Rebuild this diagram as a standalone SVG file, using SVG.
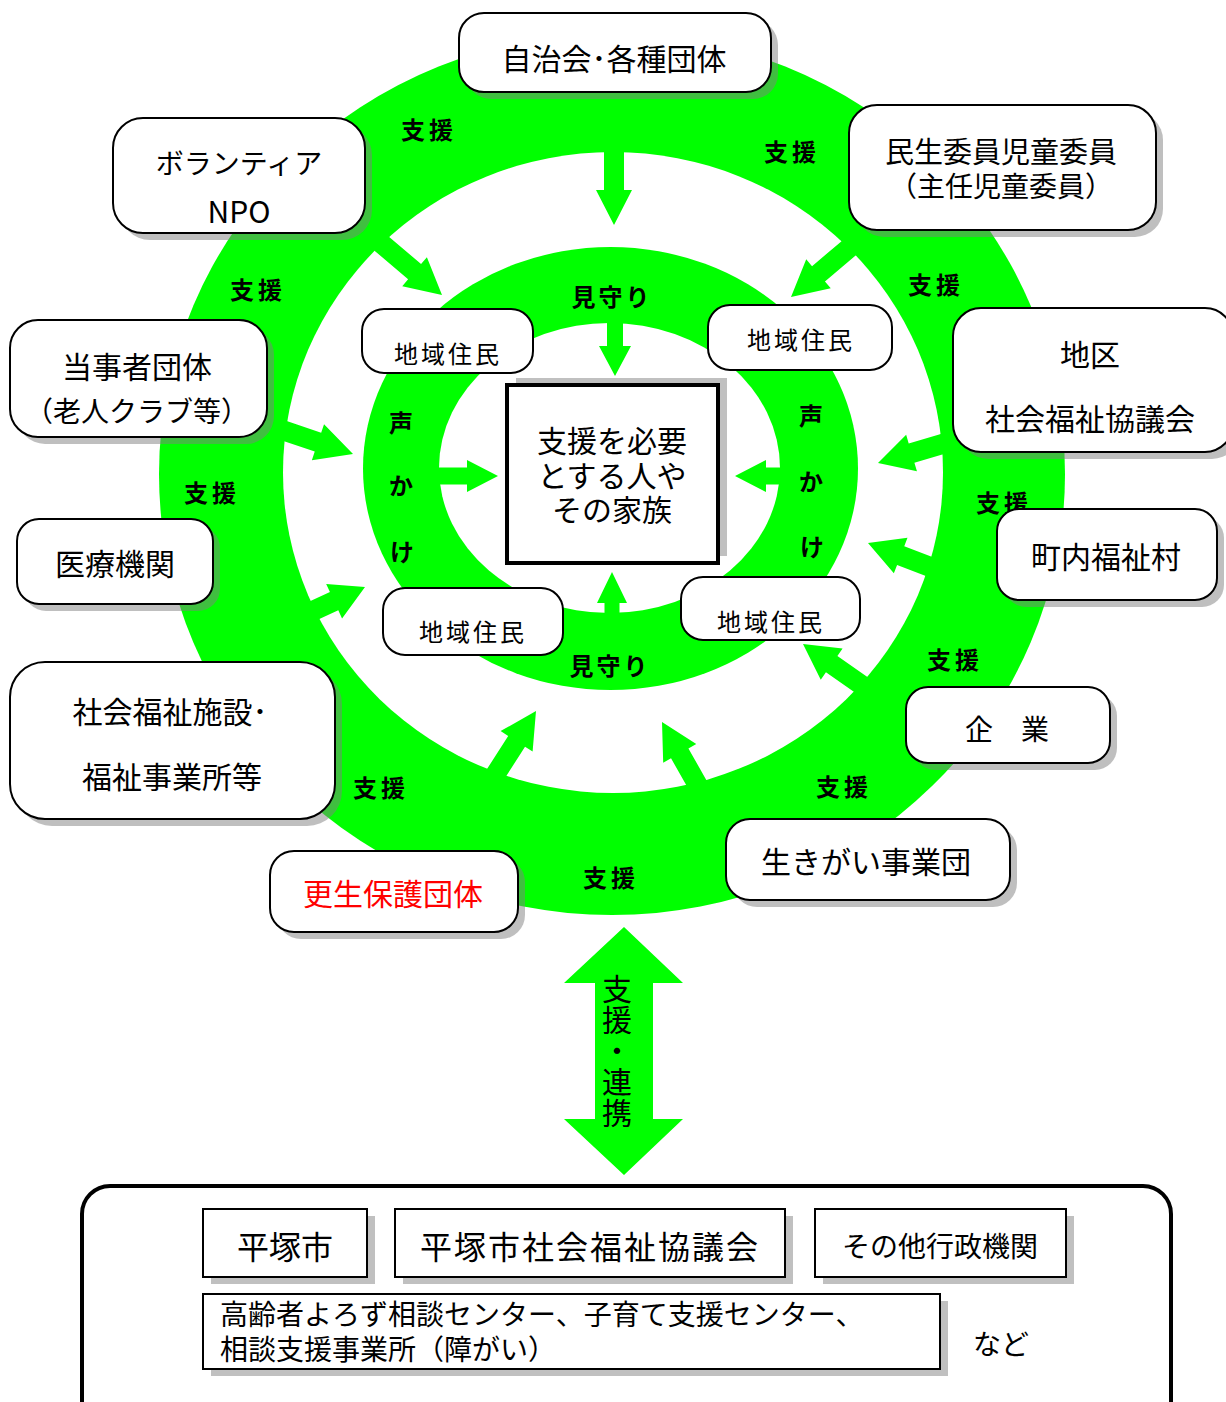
<svg xmlns="http://www.w3.org/2000/svg" width="1226" height="1402" viewBox="0 0 1226 1402">
<style>
text{font-family:"Noto Sans CJK JP","Noto Sans CJK SC",sans-serif;fill:#000;text-anchor:middle;dominant-baseline:central}
.g{fill:#00ff00}
.w{fill:#fff}
.sh{fill:#808080;fill-opacity:0.5}
.box{fill:#fff;stroke:#000;stroke-width:2}
.lbl{font-size:24px;font-weight:bold;letter-spacing:4px}
.t28{font-size:28px}
.t30{font-size:30px}
.t24{font-size:24px;letter-spacing:3px}
.sq{fill:#fff;stroke:#000;stroke-width:2}
.sqsh{fill:#c0c0c0}
.vt{font-size:30px;writing-mode:vertical-rl;letter-spacing:1px}
</style>
<rect width="1226" height="1402" fill="#fff"/>
<g id="rings">
<ellipse cx="612" cy="474" rx="453" ry="441" class="g"/>
<ellipse cx="613" cy="472.5" rx="330" ry="320.5" class="w"/>
<ellipse cx="610.5" cy="468.5" rx="247.5" ry="221.5" class="g"/>
<ellipse cx="609.5" cy="468" rx="170.5" ry="145" class="w"/>
</g>
<g id="connectors" class="g">
<polygon transform="translate(614,225) rotate(90)" points="0,0 -35,-18 -35,-10 -77,-10 -77,10 -35,10 -35,18"/>
<polygon transform="translate(442,295) rotate(40.4)" points="0,0 -36,-19 -36,-10 -86,-10 -86,10 -36,10 -36,19"/>
<polygon transform="translate(791,297) rotate(139.8)" points="0,0 -36,-19 -36,-10 -84,-10 -84,10 -36,10 -36,19"/>
<polygon transform="translate(353,454) rotate(18.7)" points="0,0 -37,-19 -37,-10 -78,-10 -78,10 -37,10 -37,19"/>
<polygon transform="translate(365,587) rotate(-24.7)" points="0,0 -34,-19 -34,-10 -62,-10 -62,10 -34,10 -34,19"/>
<polygon transform="translate(878,463) rotate(163.5)" points="0,0 -35,-19 -35,-10 -72,-10 -72,10 -35,10 -35,19"/>
<polygon transform="translate(868,543) rotate(201)" points="0,0 -35,-19 -35,-10 -70,-10 -70,10 -35,10 -35,19"/>
<polygon transform="translate(803,644) rotate(215)" points="0,0 -35,-19 -35,-10 -76,-10 -76,10 -35,10 -35,19"/>
<polygon transform="translate(662,722) rotate(240.5)" points="0,0 -36,-19 -36,-10 -76,-10 -76,10 -36,10 -36,19"/>
<polygon transform="translate(536,711) rotate(-57.4)" points="0,0 -36,-19 -36,-10 -78,-10 -78,10 -36,10 -36,19"/>
<polygon transform="translate(615,376) rotate(90)" points="0,0 -30,-16 -30,-8 -60,-8 -60,8 -30,8 -30,16"/>
<polygon transform="translate(612,572) rotate(-90)" points="0,0 -31,-15 -31,-7.5 -48,-7.5 -48,7.5 -31,7.5 -31,15"/>
<polygon transform="translate(498,476) rotate(0)" points="0,0 -31,-16 -31,-8.5 -66,-8.5 -66,8.5 -31,8.5 -31,16"/>
<polygon transform="translate(735,476) rotate(180)" points="0,0 -31,-16 -31,-8.5 -53,-8.5 -53,8.5 -31,8.5 -31,16"/>
<polygon points="624,927 683,983 653,983 653,1119 683,1119 624,1175 564,1119 595,1119 595,983 564,983"/>
</g>
<g id="labels">
<text class="lbl" x="429" y="128">支援</text>
<text class="lbl" x="258" y="288">支援</text>
<text class="lbl" x="792" y="150">支援</text>
<text class="lbl" x="936" y="283">支援</text>
<text class="lbl" x="212" y="491">支援</text>
<text class="lbl" x="1004" y="501">支援</text>
<text class="lbl" x="381" y="786">支援</text>
<text class="lbl" x="955" y="658">支援</text>
<text class="lbl" x="844" y="785">支援</text>
<text class="lbl" x="611" y="876">支援</text>
<text class="lbl" x="612" y="295" style="letter-spacing:3px">見守り</text>
<text class="lbl" x="610" y="664" style="letter-spacing:3px">見守り</text>
<text class="lbl" x="403" y="421">声</text>
<text class="lbl" x="403" y="484">か</text>
<text class="lbl" x="404" y="550">け</text>
<text class="lbl" x="813" y="414">声</text>
<text class="lbl" x="813" y="480">か</text>
<text class="lbl" x="814" y="545">け</text>
<text class="vt" x="617" y="1051">支援・連携</text>
</g>
<g id="n-jichikai">
<rect x="466" y="20" width="312" height="79" rx="25" class="sh"/>
<rect x="459" y="13" width="312" height="79" rx="25" class="box"/>
<text class="t30" x="614" y="57">自治会･各種団体</text>
</g>
<g id="n-volunteer">
<rect x="120" y="125" width="252" height="115" rx="30" class="sh"/>
<rect x="113" y="118" width="252" height="115" rx="30" class="box"/>
<text class="t28" x="239" y="162">ボランティア</text>
<text class="t30" x="239" y="210">NPO</text>
</g>
<g id="n-minsei">
<rect x="856" y="112" width="307" height="125" rx="28" class="sh"/>
<rect x="849" y="105" width="307" height="125" rx="28" class="box"/>
<text class="t28" x="1001" y="150"><tspan x="1001" y="150" style="font-size:29px">民生委員児童委員</tspan><tspan x="1001" y="185">（主任児童委員）</tspan></text>
</g>
<g id="n-tojisha">
<rect x="17" y="327" width="257" height="117" rx="28" class="sh"/>
<rect x="10" y="320" width="257" height="117" rx="28" class="box"/>
<text class="t30" x="137" y="365">当事者団体</text>
<text class="t28" x="137" y="410">（老人クラブ等）</text>
</g>
<g id="n-iryo">
<rect x="24" y="526" width="196" height="85" rx="22" class="sh"/>
<rect x="17" y="519" width="196" height="85" rx="22" class="box"/>
<text class="t30" x="115" y="562">医療機関</text>
</g>
<g id="n-chiku">
<rect x="960" y="315" width="280" height="144" rx="28" class="sh"/>
<rect x="953" y="308" width="280" height="144" rx="28" class="box"/>
<text class="t30" x="1090" y="353">地区</text>
<text class="t30" x="1090" y="417">社会福祉協議会</text>
</g>
<g id="n-chonai">
<rect x="1004" y="516" width="220" height="91" rx="22" class="sh"/>
<rect x="997" y="509" width="220" height="91" rx="22" class="box"/>
<text class="t30" x="1106" y="555">町内福祉村</text>
</g>
<g id="n-kigyo">
<rect x="913" y="694" width="204" height="76" rx="22" class="sh"/>
<rect x="906" y="687" width="204" height="76" rx="22" class="box"/>
<text class="t28" x="1007" y="728">企　業</text>
</g>
<g id="n-ikigai">
<rect x="733" y="826" width="284" height="81" rx="24" class="sh"/>
<rect x="726" y="819" width="284" height="81" rx="24" class="box"/>
<text class="t30" x="866" y="860">生きがい事業団</text>
</g>
<g id="n-shisetsu">
<rect x="17" y="669" width="325" height="157" rx="35" class="sh"/>
<rect x="10" y="662" width="325" height="157" rx="35" class="box"/>
<text class="t30" x="170" y="710">社会福祉施設･</text>
<text class="t30" x="172" y="775">福祉事業所等</text>
</g>
<g id="n-kosei">
<rect x="277" y="858" width="248" height="81" rx="24" class="sh"/>
<rect x="270" y="851" width="248" height="81" rx="24" class="box"/>
<text class="t30" x="393" y="892" style="fill:#ff0000">更生保護団体</text>
</g>
<g id="n-jumin-tl">
<rect x="362" y="309" width="171" height="64" rx="22" class="box"/>
<text class="t24" x="448" y="352">地域住民</text>
</g>
<g id="n-jumin-tr">
<rect x="708" y="305" width="184" height="65" rx="22" class="box"/>
<text class="t24" x="801" y="338">地域住民</text>
</g>
<g id="n-jumin-bl">
<rect x="383" y="588" width="180" height="67" rx="22" class="box"/>
<text class="t24" x="473" y="630">地域住民</text>
</g>
<g id="n-jumin-br">
<rect x="681" y="577" width="179" height="63" rx="22" class="box"/>
<text class="t24" x="771" y="620">地域住民</text>
</g>
<g id="n-center">
<rect x="516" y="378" width="211" height="178" class="sqsh"/>
<rect x="507" y="385" width="211" height="178" fill="#fff" stroke="#000" stroke-width="4"/>
<text class="t30" x="612" y="439"><tspan x="612" y="439">支援を必要</tspan><tspan x="612" y="474">とする人や</tspan><tspan x="612" y="508">その家族</tspan></text>
</g>
<g id="n-bottom">
<rect x="82" y="1186" width="1089" height="250" rx="28" fill="#fff" stroke="#000" stroke-width="4"/>
</g>
<g id="n-hiratsuka">
<rect x="211" y="1216" width="164" height="68" class="sqsh"/>
<rect x="203" y="1209" width="164" height="68" class="sq"/>
<text class="t30" x="285" y="1245" style="font-size:32px">平塚市</text>
</g>
<g id="n-shakyo">
<rect x="403" y="1216" width="390" height="68" class="sqsh"/>
<rect x="395" y="1209" width="390" height="68" class="sq"/>
<text class="t30" x="590" y="1245" style="font-size:32px;letter-spacing:2px">平塚市社会福祉協議会</text>
</g>
<g id="n-gyosei">
<rect x="823" y="1216" width="251" height="68" class="sqsh"/>
<rect x="815" y="1209" width="251" height="68" class="sq"/>
<text class="t28" x="940" y="1245">その他行政機関</text>
</g>
<g id="n-soudan">
<rect x="211" y="1301" width="737" height="75" class="sqsh"/>
<rect x="203" y="1294" width="737" height="75" class="sq"/>
<text class="t28" x="220" y="1313" style="text-anchor:start"><tspan x="220" y="1313">高齢者よろず相談センター、子育て支援センター、</tspan><tspan x="220" y="1348">相談支援事業所（障がい）</tspan></text>
</g>
<g id="n-nado">
<text class="t28" x="1001" y="1343">など</text>
</g>
</svg>
